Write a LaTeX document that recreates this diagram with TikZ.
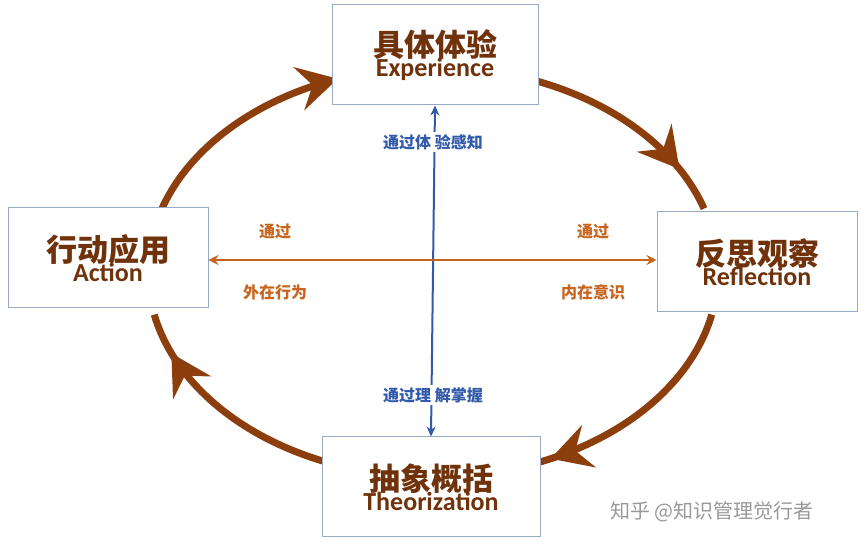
\documentclass[tikz,border=0pt]{standalone}
\usepackage{fontspec}
\setmainfont{Carlito}
\newfontfamily\cjk{Noto Sans CJK SC}
\usetikzlibrary{arrows.meta,decorations.markings,calc}
\definecolor{brn}{RGB}{140,62,12}
\definecolor{bxc}{RGB}{150,170,200}
\definecolor{blu}{RGB}{50,90,170}
\definecolor{org}{RGB}{200,100,30}
\newcommand\myttl[2]{{\cjk\bfseries\fontsize{31}{31}\selectfont\color{brn!80!black}#1}\\[-2pt]{\fontsize{26}{26}\selectfont\bfseries\color{brn!80!black}#2}}
\begin{document}
\begin{tikzpicture}[x=1pt,y=1pt,
 box/.style={draw=bxc,line width=1pt,fill=white,minimum width=#1,minimum height=100pt,align=center,inner sep=0pt},
 cyc/.style={draw=brn,line width=7pt,postaction={decorate},decoration={markings,mark=at position #1 with {\arrow[brn]{Stealth[length=40pt,width=44pt,inset=14pt]}}}},
 bl/.style={text=blu,font=\cjk\bfseries\fontsize{16}{16}\selectfont},
 ol/.style={text=org,font=\cjk\bfseries\fontsize{16}{16}\selectfont}]
\useasboundingbox (0,0) rectangle (865,548);
\coordinate (c) at (433,276);
% cycle arcs
\draw[cyc=0.93] ($(c)+(162:285 and 205)$) arc[start angle=162,end angle=106,x radius=285,y radius=205];
\draw[cyc=0.8] ($(c)+(72:285 and 205)$) arc[start angle=72,end angle=18,x radius=285,y radius=205];
\draw[cyc=0.88] ($(c)+(-12:285 and 205)$) arc[start angle=-12,end angle=-72,x radius=285,y radius=205];
\draw[cyc=0.82] ($(c)+(-112:285 and 205)$) arc[start angle=-112,end angle=-168,x radius=285,y radius=205];
% boxes
\node[box=206pt] (top) at (435,493) {\myttl{具体体验}{Experience}};
\node[box=200pt] (lft) at (108,290) {\myttl{行动应用}{Action}};
\node[box=200pt] (rgt) at (757,286) {\myttl{反思观察}{Reflection}};
\node[box=218pt] (bot) at (431,61) {\myttl{抽象概括}{Theorization}};
% axes
\draw[blu,line width=2pt,{Stealth[length=10pt,width=9pt]}-{Stealth[length=10pt,width=9pt]}] (top.south) -- (bot.north);
\draw[org,line width=2.5pt,{Stealth[length=10pt,width=10pt]}-{Stealth[length=10pt,width=10pt]}] (lft.east|-0,288) -- (rgt.west|-0,288);
\node[bl,fill=white,inner sep=2pt] (b1) at (433,406) {通过体 验感知};
\node[bl,fill=white,inner sep=2pt] (b2) at (433,153) {通过理 解掌握};
\node[ol] (o1) at (275,316) {通过};
\node[ol] (o2) at (275,256) {外在行为};
\node[ol] (o3) at (593,316) {通过};
\node[ol] (o4) at (593,256) {内在意识};
\node[text=gray!80,font=\cjk\fontsize{20}{20}\selectfont] (wm) at (712,36) {知乎 @知识管理觉行者};
\end{tikzpicture}
\end{document}
